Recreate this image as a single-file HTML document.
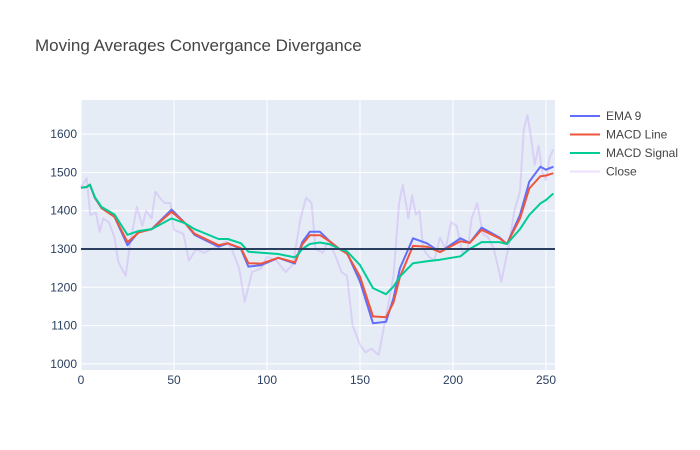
<!DOCTYPE html>
<html><head><meta charset="utf-8"><style>
body{margin:0;background:#fff;font-family:"Liberation Sans",Arial,sans-serif}
svg{display:block}
</style></head><body>
<svg id="c" width="700" height="450">
<rect x="0" y="0" width="700" height="450" fill="#fff"/>
<text x="35" y="51" font-size="17" fill="#444">Moving Averages Convergance Divergance</text>
<rect x="81" y="100" width="474" height="270" fill="#e5ecf6"/>
<g id="grid"></g><g id="series"></g><g id="axes"></g>
<g id="legend" font-size="12" fill="#444"></g>
</svg>
<script>
const xTicks=[0,50,100,150,200,250];
const yTicks=[1000,1100,1200,1300,1400,1500,1600];
const lineX=[0,3,4.8,7.5,11,18,25,31,38,48.7,56,61,74,79,86,90,97,106,115,117,119,123,128.5,134,139,143,150,157,164,168,171.5,178.5,186,193,204,209,215.4,225,229,236,241,247,250,254];
const ema9=[1460,1462,1468,1433,1407,1384,1310,1345,1352,1403,1367,1337,1306,1315,1300,1254,1258,1277,1262,1290,1318,1345,1345,1319,1300,1290,1215,1106,1110,1172,1250,1328,1315,1292,1328,1316,1356,1330,1313,1389,1476,1515,1507,1515];
const macdLine=[1460,1462,1468,1433,1407,1384,1318,1343,1352,1397,1367,1340,1310,1315,1302,1263,1262,1277,1265,1287,1312,1336,1336,1319,1300,1288,1228,1124,1122,1160,1228,1308,1306,1292,1320,1316,1350,1328,1313,1380,1458,1490,1492,1498];
const macdSignal=[1460,1462,1468,1435,1410,1390,1337,1347,1352,1380,1367,1352,1326,1326,1315,1293,1290,1287,1278,1288,1300,1313,1317,1312,1300,1294,1258,1198,1182,1202,1228,1263,1268,1272,1281,1300,1318,1318,1313,1352,1389,1419,1428,1445];
const closeX=[0,3,5,8,10,12,15,18,20,24,26,30,33,35,38,40,43,45,48,50,55,58,62,66,70,75,78,81,85,88,92,97,100,105,110,114,118,121,124,126,130,133,137,140,143,146,150,153,156,160,165,168,171,173,176,178,180,182,184,187,190,193,196,199,202,205,208,210,213,216,219,222,226,230,233,236,238,240,242,244,246,248,250,252,254];
const closeVals=[1460,1485,1389,1395,1345,1380,1370,1330,1267,1230,1300,1410,1360,1400,1380,1450,1430,1420,1420,1350,1340,1270,1300,1290,1300,1310,1320,1300,1250,1162,1240,1250,1280,1270,1240,1260,1380,1434,1420,1300,1290,1320,1280,1240,1230,1100,1050,1030,1040,1023,1150,1230,1420,1467,1380,1440,1390,1400,1300,1280,1270,1330,1300,1370,1360,1290,1300,1380,1420,1340,1330,1300,1215,1310,1400,1450,1610,1650,1590,1520,1570,1500,1480,1540,1560];
const X=v=>81+v*1.86, Y=v=>249-(v-1300)*0.383;
const NS='http://www.w3.org/2000/svg';
function mk(t,a,p){const e=document.createElementNS(NS,t);for(const k in a)e.setAttribute(k,a[k]);p.appendChild(e);return e;}
const grid=document.getElementById('grid'),axes=document.getElementById('axes'),ser=document.getElementById('series'),leg=document.getElementById('legend');
xTicks.forEach(t=>{const l=mk('line',{x1:X(t),x2:X(t),y1:100,y2:370,stroke:'#fff','stroke-width':1},grid);

const tx=mk('text',{x:X(t),y:384,'text-anchor':'middle','font-size':12,fill:'#2a3f5f'},axes);tx.textContent=t;
});
yTicks.forEach(t=>{const l=mk('line',{x1:81,x2:555,y1:Y(t),y2:Y(t),stroke:'#fff','stroke-width':1},grid);

const tx=mk('text',{x:77,y:Y(t)+4,'text-anchor':'end','font-size':12,fill:'#2a3f5f'},axes);tx.textContent=t;
});
function line(xs,ys,col,w,name){const d=xs.map((x,i)=>(i?'L':'M')+X(x).toFixed(1)+','+Y(ys[i]).toFixed(1)).join('');
const p=mk('path',{d:d,fill:'none',stroke:col,'stroke-width':w,'stroke-linejoin':'round'},ser);
}
line(closeX,closeVals,'rgba(171,99,250,0.2)',2,'close-line');
line(lineX,ema9,'#636efa',2,'ema9-line');
line(lineX,macdLine,'#ef553b',2,'macd-line');
line(lineX,macdSignal,'#00cc96',2,'macd-signal-line');
const zl=mk('line',{x1:81,x2:555,y1:Y(1300),y2:Y(1300),stroke:'#2a3f5f','stroke-width':2},ser);

const legNames=['EMA 9','MACD Line','MACD Signal','Close'];
const legCols=['#636efa','#ef553b','#00cc96','rgba(171,99,250,0.2)'];
legNames.forEach((n,i)=>{const y=116+i*18.5;
const g=mk('g',{},leg);
mk('line',{x1:570,x2:600,y1:y,y2:y,stroke:legCols[i],'stroke-width':2},g);
const t=mk('text',{x:606,y:y+4},g);t.textContent=n;});
</script>
</body></html>
